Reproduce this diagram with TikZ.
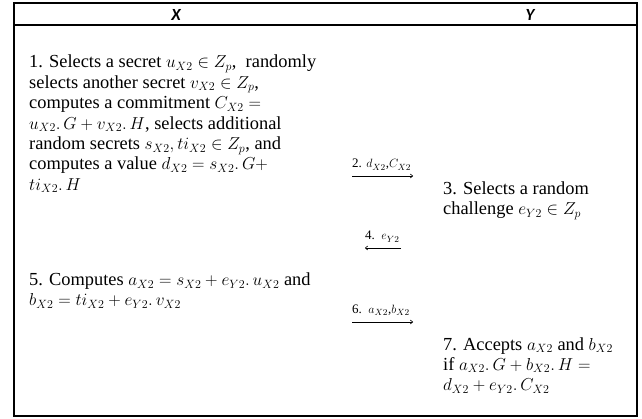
\documentclass[tikz,border=0pt]{standalone}
\usepackage{fontspec}
\setmainfont{Liberation Serif}
\newfontfamily\hdrfont{Carlito}
\usetikzlibrary{arrows.meta}
\begin{document}
\begin{tikzpicture}[x=1pt,y=-1pt,
  frame/.style={line width=2pt},
  body/.style={inner sep=0pt, align=left, anchor=base west, font=\fontsize{18.4}{20.4}\selectfont},
  hdr/.style={inner sep=0pt, font=\hdrfont\bfseries\itshape\fontsize{17}{18}\selectfont},
  msg/.style={-{To[length=3pt,width=4.5pt]}, line width=0.6pt},
  msglbl/.style={font=\fontsize{13}{14}\selectfont, inner sep=0pt, anchor=base west}]
\useasboundingbox (0,0) rectangle (642,419);
\draw[frame] (14,3) rectangle (637,416);
\draw[frame] (14,25) -- (637,25);
\node[hdr] (hx) at (176,14.5) {X};
\node[hdr] (hy) at (530,14.5) {Y};

% base anchor of a multi-line node is the baseline of its last line
\node[body] (s1) at (29,190.4) {1. Selects a secret $u_{X2} \in Z_p$,\ \ randomly\\
selects another secret $v_{X2} \in Z_p$,\\
computes a commitment $C_{X2} =$\\
$u_{X2}.\,G + v_{X2}.\,H$, selects additional\\
random secrets $s_{X2}, ti_{X2} \in Z_p$, and\\
computes a value $d_{X2} = s_{X2}.\,G +$\\
$ti_{X2}.\,H$};

\node[body] (s3) at (443,215) {3. Selects a random\\
challenge $e_{Y2} \in Z_p$};

\node[body] (s5) at (29,306) {5. Computes $a_{X2} = s_{X2} + e_{Y2}.\,u_{X2}$ and\\
$b_{X2} = ti_{X2} + e_{Y2}.\,v_{X2}$};

\node[body] (s7) at (443,390.8) {7. Accepts $a_{X2}$ and $b_{X2}$\\
if $a_{X2}.\,G + b_{X2}.\,H =$\\
$d_{X2} + e_{Y2}.\,C_{X2}$};

\coordinate (m2s) at (352,176);
\coordinate (m2e) at (413,176);
\coordinate (m4s) at (401,248);
\coordinate (m4e) at (365,248);
\coordinate (m6s) at (352,322);
\coordinate (m6e) at (413,322);
\draw[msg] (m2s) -- (m2e);
\draw[msg] (m4s) -- (m4e);
\draw[msg] (m6s) -- (m6e);
\node[msglbl] (l2) at (352,168) {2. $d_{X2}$,$C_{X2}$};
\node[msglbl] (l4) at (365,240) {4.\ \ $e_{Y2}$};
\node[msglbl] (l6) at (352,313) {6.\ \ $a_{X2}$,$b_{X2}$};
\end{tikzpicture}
\end{document}
